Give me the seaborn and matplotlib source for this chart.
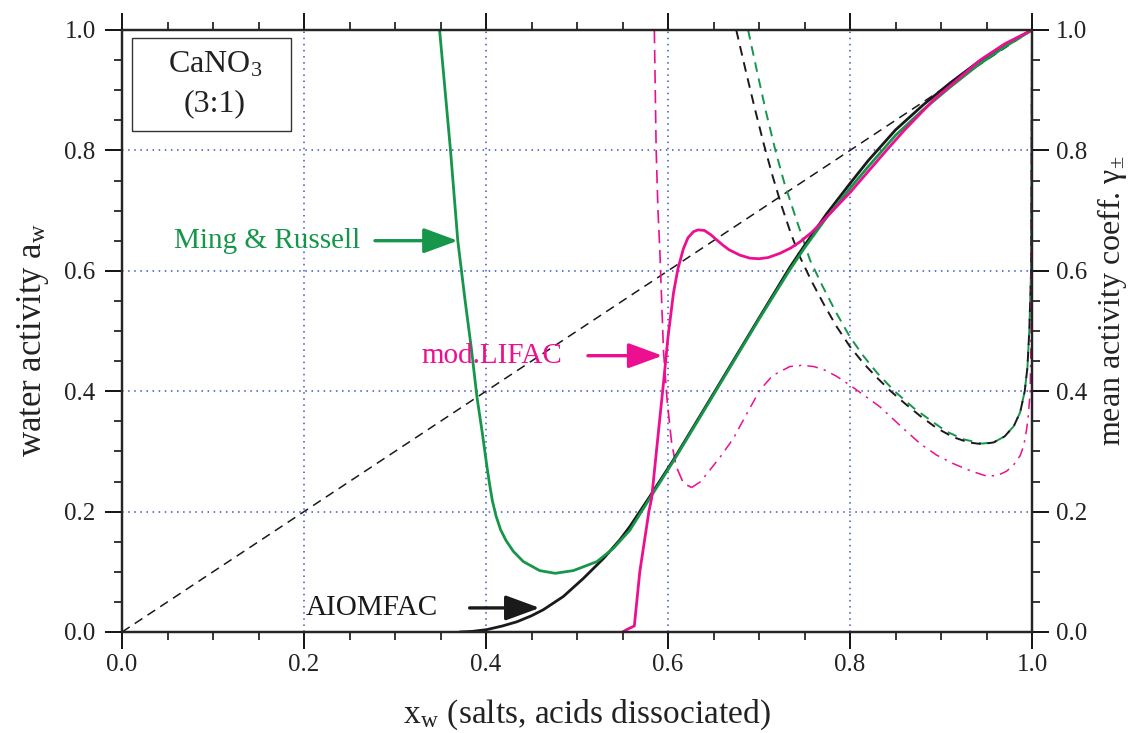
import numpy as np
import pandas as pd
import matplotlib
matplotlib.use("Agg")
import matplotlib.pyplot as plt
from matplotlib.patches import Rectangle
import seaborn as sns

# ---- data ----
# Ming & Russell water activity
mr_x = [0.349,0.355,0.361,0.369,0.377,0.384,0.390,0.396,0.401,0.404,0.407,0.411,0.416,0.422,0.430,0.441,0.459,0.476,0.496,0.522,0.540,0.558,0.580,0.606,0.650,0.701,0.734,0.750,0.774,0.800,0.820,0.850,0.880,0.910,0.940,0.970,1.0]
mr_y = [1.0,0.90,0.80,0.65,0.551,0.47,0.391,0.33,0.275,0.245,0.218,0.193,0.170,0.152,0.134,0.117,0.102,0.0975,0.102,0.117,0.139,0.169,0.222,0.284,0.394,0.522,0.602,0.638,0.688,0.737,0.773,0.825,0.867,0.905,0.941,0.972,1.0]
# AIOMFAC water activity
ai_x = [0.371,0.385,0.401,0.418,0.434,0.450,0.463,0.485,0.507,0.529,0.547,0.558,0.580,0.606,0.650,0.701,0.734,0.750,0.774,0.800,0.820,0.850,0.880,0.910,0.940,0.970,1.0]
ai_y = [0.0,0.001,0.004,0.010,0.017,0.027,0.037,0.059,0.089,0.122,0.153,0.175,0.225,0.286,0.396,0.524,0.606,0.642,0.694,0.745,0.783,0.834,0.875,0.912,0.946,0.975,1.0]
# mod.LIFAC water activity
lf_x = [0.550,0.556,0.563,0.569,0.574,0.579,0.582,0.590,0.595,0.600,0.606,0.611,0.617,0.622,0.628,0.633,0.640,0.647,0.653,0.660,0.667,0.679,0.690,0.700,0.710,0.723,0.735,0.745,0.758,0.771,0.800,0.820,0.840,0.860,0.892,0.920,0.943,0.970,1.0]
lf_y = [0.0,0.005,0.01,0.10,0.15,0.20,0.222,0.34,0.413,0.49,0.563,0.604,0.637,0.655,0.665,0.668,0.667,0.660,0.652,0.643,0.635,0.626,0.621,0.620,0.622,0.629,0.638,0.648,0.664,0.684,0.730,0.765,0.800,0.834,0.884,0.920,0.950,0.977,1.0]
# mean activity coefficients
lfg1_x = [0.585,0.586,0.587,0.589,0.591,0.595,0.599,0.604,0.609,0.617,0.626]
lfg1_y = [1.0,0.90,0.80,0.70,0.635,0.468,0.385,0.314,0.275,0.247,0.240]
lfg2_x = [0.626,0.636,0.646,0.659,0.672,0.686,0.701,0.715,0.734,0.747,0.760,0.771,0.785,0.800,0.833,0.855,0.877,0.895,0.913,0.932,0.950,0.962,0.972,0.980,0.987,0.991,0.994,0.996,0.998,0.999,1.0]
lfg2_y = [0.240,0.250,0.269,0.294,0.322,0.361,0.402,0.426,0.441,0.443,0.441,0.436,0.425,0.410,0.374,0.343,0.313,0.294,0.280,0.268,0.259,0.260,0.267,0.278,0.293,0.310,0.336,0.36,0.40,0.50,1.0]
aig_x = [0.675,0.685,0.695,0.705,0.715,0.725,0.735,0.745,0.758,0.771,0.785,0.800,0.815,0.830,0.844,0.860,0.877,0.895,0.913,0.930,0.945,0.958,0.970,0.980,0.987,0.992,0.995,0.997,0.999,1.0]
aig_y = [1.0,0.935,0.872,0.812,0.757,0.707,0.662,0.623,0.582,0.545,0.508,0.474,0.446,0.422,0.401,0.380,0.359,0.339,0.324,0.315,0.312,0.315,0.325,0.342,0.365,0.40,0.44,0.50,0.60,1.0]
mrg_x = [0.688,0.698,0.708,0.718,0.728,0.740,0.756,0.770,0.785,0.800,0.815,0.830,0.849,0.870,0.890,0.906,0.925,0.945,0.958,0.970,0.980,0.987,0.992,0.995,0.997,0.999,1.0]
mrg_y = [1.0,0.930,0.862,0.800,0.745,0.690,0.618,0.574,0.530,0.490,0.458,0.430,0.400,0.372,0.350,0.333,0.320,0.313,0.315,0.325,0.342,0.365,0.40,0.44,0.50,0.60,1.0]
ideal_x = [0.0, 1.0]
ideal_y = [0.0, 1.0]

ticks = [0.0, 0.2, 0.4, 0.6, 0.8, 1.0]
tick_labels = ["0.0", "0.2", "0.4", "0.6", "0.8", "1.0"]

GREEN = "#16964a"
MAG = "#ec1090"
BLACK = "#1a1a1a"
GRID = "#3a55c0"
TXT = "#222222"

sns.set_theme(style="ticks")
plt.rcParams["font.family"] = ["Liberation Serif", "DejaVu Serif"]
plt.rcParams["mathtext.fontset"] = "stix"

fig = plt.figure(figsize=(11.31, 7.33), dpi=100)
ax = fig.add_axes([122/1131, 1-632/733, 910/1131, 602/733])

def line(x, y, **kw):
    sns.lineplot(x=x, y=y, ax=ax, estimator=None, sort=False, legend=False, **kw)

line(ideal_x, ideal_y, color=BLACK, lw=1.1, ls=(0, (6, 4)))
line(mrg_x, mrg_y, color=GREEN, lw=1.4, ls=(0, (5, 3.5)))
line(aig_x, aig_y, color=BLACK, lw=1.4, ls=(0, (5, 3.5)))
line(lfg1_x, lfg1_y, color=MAG, lw=1.2, ls=(0, (8, 4)))
line(lfg2_x, lfg2_y, color=MAG, lw=1.1, ls=(0, (7, 4, 1.5, 4)))
line(ai_x, ai_y, color=BLACK, lw=2.0)
line(mr_x, mr_y, color=GREEN, lw=2.0)
line(lf_x, lf_y, color=MAG, lw=2.0)

ax.set_xlim(0, 1)
ax.set_ylim(0, 1)
for g in [0.2, 0.4, 0.6, 0.8]:
    ax.axvline(g, color=GRID, lw=1.1, ls=(0, (1, 3)), zorder=0)
    ax.axhline(g, color=GRID, lw=1.1, ls=(0, (1, 3)), zorder=0)

ax.set_xticks(ticks)
ax.set_xticklabels(tick_labels)
ax.set_yticks(ticks)
ax.set_yticklabels(tick_labels)
ax.set_xticks(np.arange(0, 1.001, 0.05), minor=True)
ax.set_yticks(np.arange(0, 1.001, 0.05), minor=True)
ax.tick_params(axis="x", which="major", direction="out", length=12, width=1.3,
               labelsize=18, top=True, color="black", labelcolor=TXT, pad=4)
ax.tick_params(axis="y", which="major", direction="out", length=12, width=1.3,
               labelsize=18, right=False, color="black", labelcolor=TXT, pad=7)
ax.tick_params(axis="both", which="minor", direction="out", length=6, width=1.1,
               top=True, right=False, color="black")
for s in ax.spines.values():
    s.set_linewidth(1.6)
    s.set_color("black")

ax.set_xlabel(r"x$_{\mathregular{w}}$ (salts, acids dissociated)", fontsize=24, color=TXT)
ax.xaxis.set_label_coords(0.511, -0.138)
ax.xaxis.label.set_va("center")
ax.set_ylabel(r"water activity a$_{\mathregular{w}}$", fontsize=25, color=TXT)
ax.yaxis.set_label_coords(-0.098, 0.485)
ax.yaxis.label.set_va("center")

ax2 = ax.twinx()
ax2.set_ylim(0, 1)
ax2.set_yticks(ticks)
ax2.set_yticklabels(tick_labels)
ax2.set_yticks(np.arange(0, 1.001, 0.05), minor=True)
ax2.tick_params(axis="y", which="major", direction="out", length=12, width=1.3,
                labelsize=18, color="black", labelcolor=TXT, pad=5)
ax2.tick_params(axis="y", which="minor", direction="out", length=6, width=1.1, color="black")
for s in ax2.spines.values():
    s.set_linewidth(1.6)
ax2.set_ylabel(r"mean activity coeff. γ$_{\mathregular{\pm}}$", fontsize=23, color=TXT)
ax2.yaxis.set_label_coords(1.088, 0.551)
ax2.yaxis.label.set_va("center")

# annotations: label text, then a separate arrow
arrow_style = "-|>,head_length=1.5,head_width=0.55"
def label_arrow(text, color, text_right, arrow_start, arrow_tip, y):
    ax.text(text_right, y, text, fontsize=21, color=color, ha="right", va="center")
    ax.annotate("", xy=(arrow_tip, y), xytext=(arrow_start, y),
                arrowprops=dict(arrowstyle=arrow_style, color=color, lw=2.4,
                                shrinkA=0, shrinkB=0, mutation_scale=14))

label_arrow("Ming & Russell", GREEN, 0.262, 0.278, 0.369, 0.65)
label_arrow("mod.LIFAC", MAG, 0.484, 0.512, 0.594, 0.459)
label_arrow("AIOMFAC", BLACK, 0.347, 0.382, 0.459, 0.04)

ax.add_patch(Rectangle((0.011, 0.832), 0.175, 0.155, transform=ax.transAxes,
                       fill=True, fc="white", ec="#333333", lw=1.0, zorder=5))
ax.text(0.102, 0.942, "CaNO$_{\\mathregular{3}}$", fontsize=23, color=TXT,
        ha="center", va="center", transform=ax.transAxes, zorder=6)
ax.text(0.102, 0.877, "(3:1)", fontsize=23, color=TXT,
        ha="center", va="center", transform=ax.transAxes, zorder=6)

fig.savefig("out.png", dpi=100)
